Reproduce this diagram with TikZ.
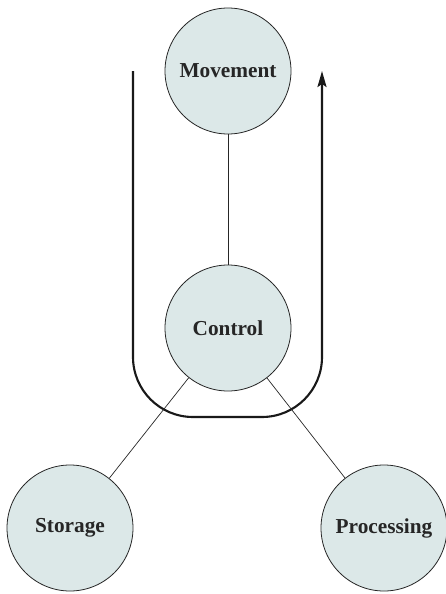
\documentclass[tikz,border=0pt]{standalone}
\usepackage{fontspec}
\setmainfont{Liberation Serif}
\usetikzlibrary{arrows.meta}
\definecolor{nodefill}{RGB}{220,232,232}
\tikzset{
  unit/.style={circle, draw=black!85, line width=0.8pt, fill=nodefill, minimum size=126pt, inner sep=0pt, font=\fontsize{21.3}{25}\selectfont\bfseries, text=black!85},
  link/.style={line width=0.7pt, draw=black!85},
  flow/.style={line width=2.1pt, draw=black!90, rounded corners=60pt}
}
\begin{document}
\begin{tikzpicture}[x=1pt,y=-1pt]
\useasboundingbox (0,0) rectangle (446,594);
\coordinate (ustart) at (133,71);
\coordinate (ubl) at (133,417);
\coordinate (ubr) at (322,417);
\coordinate (uend) at (322,71);
\draw[flow, -{Stealth[length=16pt,width=9pt,inset=3pt]}] (ustart) -- (ubl) -- (ubr) -- (uend);
\node[unit] (mov) at (228,71) {Movement};
\node[unit] (ctl) at (228,328) {Control};
\node[unit] (sto) at (70,528) {Storage};
\node[unit] (pro) at (384,528) {Processing};
\draw[link] (mov) -- (ctl);
\draw[link] (ctl) -- (sto);
\draw[link] (ctl) -- (pro);
\end{tikzpicture}
\end{document}
